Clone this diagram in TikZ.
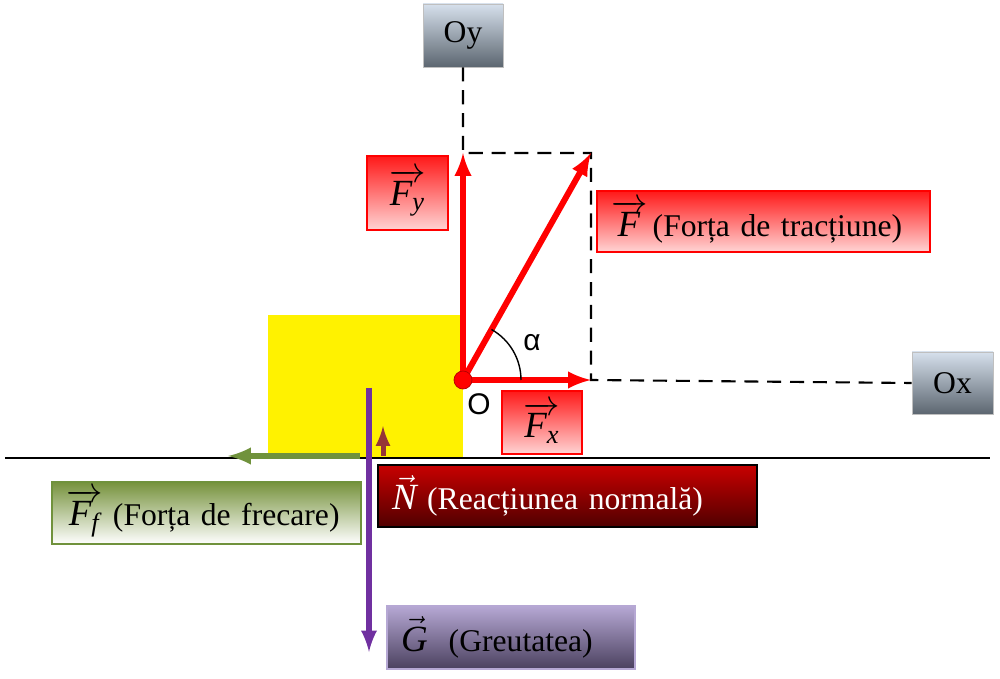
\documentclass[tikz,border=0pt]{standalone}
\usepackage{fontspec}
\setmainfont{Liberation Serif}
\newfontfamily\arialf{Liberation Sans}

\definecolor{axtop}{RGB}{214,224,236}
\definecolor{axbot}{RGB}{92,102,112}
\definecolor{redtop}{RGB}{255,25,25}
\definecolor{redbot}{RGB}{255,212,212}
\definecolor{fftop}{RGB}{118,146,60}
\definecolor{ntop}{RGB}{200,0,0}
\definecolor{nbot}{RGB}{80,0,0}
\definecolor{gtop}{RGB}{182,168,212}
\definecolor{gbot}{RGB}{75,65,95}
\definecolor{frgreen}{RGB}{112,146,60}
\definecolor{grpurple}{RGB}{112,48,160}
\definecolor{nbrown}{RGB}{150,55,55}

\newcommand{\vecF}[1]{{\fontsize{21}{24}\selectfont$\overrightarrow{\textit{F}_{\mbox{\fontsize{15}{17}\selectfont\itshape #1}}}$}}
\newcommand{\vecL}[1]{{\fontsize{21}{24}\selectfont$\vec{\textit{#1}}$}}

\tikzset{
  axisbox/.style={draw=gray!50, top color=axtop, bottom color=axbot, inner sep=0pt},
  redbox/.style={draw=red, thick, top color=redtop, bottom color=redbot, inner sep=0pt},
  textbox/.style={inner xsep=0.28cm, inner ysep=0pt, align=left},
  force/.style={-latex, line width=0.12cm}
}

\begin{document}
\begin{tikzpicture}[font=\fontsize{18}{22}\selectfont]
\useasboundingbox (0,0) rectangle (20,13.56);

\fill[yellow] (5.36,4.42) rectangle (9.26,7.26);
\draw[line width=0.04cm] (0.1,4.4)--(19.8,4.4);

\coordinate (O) at (9.26,5.96);
\coordinate (Fy) at (9.26,10.5);
\coordinate (F) at (11.82,10.5);
\coordinate (Fx) at (11.82,5.96);

\node[axisbox, minimum width=1.6cm, minimum height=1.26cm] (oy) at (9.26,12.85) {Oy};
\node[axisbox, minimum width=1.62cm, minimum height=1.24cm] (ox) at (19.05,5.9) {Ox};

\draw[line width=1.2pt, dash pattern=on 8pt off 5pt] (oy.south) -- (Fy) -- (F) -- (Fx) -- (ox.west);

\draw[force, red] (O) -- (Fy);
\draw[force, red] (O) -- (F);
\draw[force, red] (O) -- (Fx);
\draw[thick] (O) ++(1.16,0) arc[start angle=0, end angle=60.6, radius=1.16];
\fill[red, draw=red!70!black] (O) circle (0.18);

\node[font=\arialf\fontsize{17}{20}\selectfont] (alpha) at (10.64,6.7) {α};
\node[font=\arialf\fontsize{17}{20}\selectfont] (o) at (9.58,5.48) {O};

\node[redbox, minimum width=1.62cm, minimum height=1.48cm] (fy) at (8.15,9.7) {\vecF{y}};
\node[redbox, textbox, text width=6.1cm, minimum height=1.22cm] (f) at (15.27,9.13) {\vecF{}\,(Forța de tracțiune)};
\node[redbox, minimum width=1.6cm, minimum height=1.26cm] (fx) at (10.84,5.11) {\vecF{x}};

\draw[force, frgreen] (7.2,4.44) -- (4.56,4.44);
\draw[-latex, line width=0.1cm, nbrown] (7.66,4.44) -- (7.66,5.04);
\draw[-latex, line width=0.11cm, grpurple] (7.38,5.8) -- (7.38,0.52);

\node[textbox, draw=frgreen, thick, top color=fftop, bottom color=white, text width=5.62cm, minimum height=1.24cm] (ff) at (4.13,3.3) {\mbox{\vecF{f} (Forța de frecare)}};
\node[textbox, draw=black, thick, top color=ntop, bottom color=nbot, text=white, text width=7.02cm, minimum height=1.24cm] (n) at (11.35,3.64) {\vecL{N} (Reacțiunea normală)};
\node[textbox, draw=gtop, thick, top color=gtop, bottom color=gbot, text width=4.4cm, minimum height=1.26cm] (g) at (10.22,0.81) {\vecL{G}\ \ (Greutatea)};
\end{tikzpicture}
\end{document}
